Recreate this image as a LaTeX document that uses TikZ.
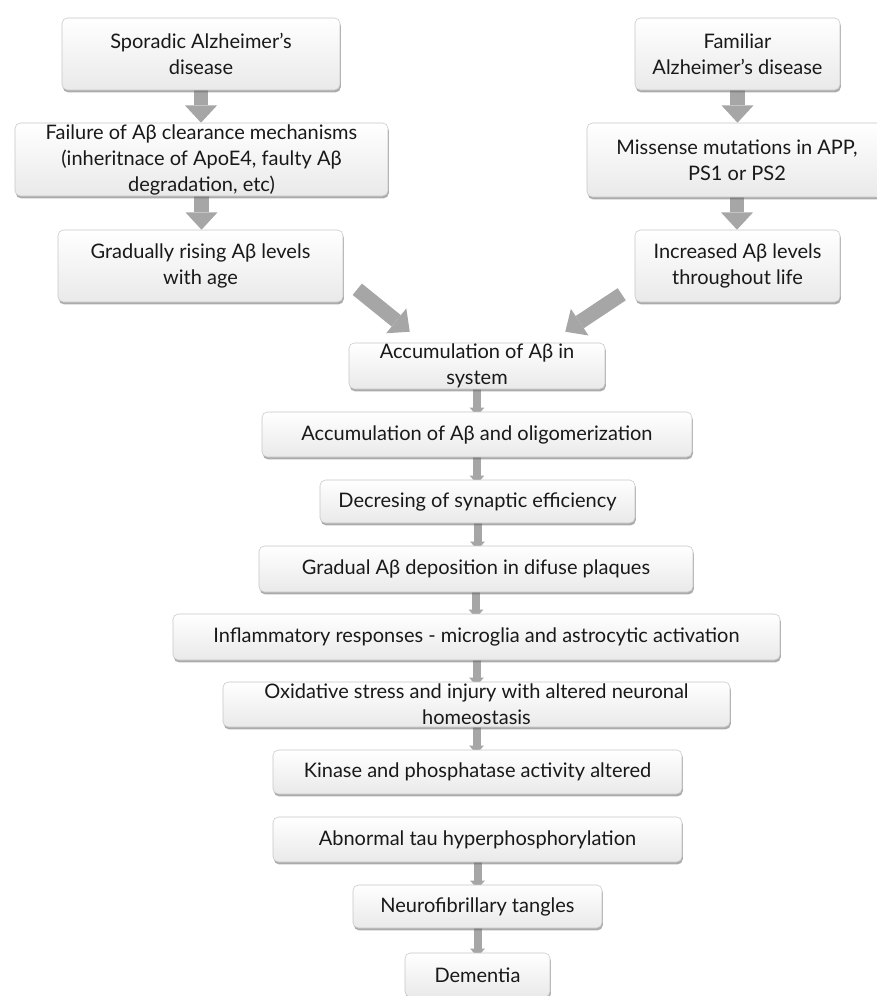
\documentclass[tikz,border=0pt]{standalone}
\usepackage{fontspec}
\setmainfont{Lato}
\usetikzlibrary{arrows.meta,shadows,backgrounds,calc}

\begin{document}
\begin{tikzpicture}[
        x=0.75pt, y=-0.75pt,
        font=\fontsize{15}{19.5}\selectfont,
        box/.style      ={draw=gray!45, line width=0.4pt, rounded corners=4pt,
                          top color=white, bottom color=gray!17, align=center,
                          inner xsep=2pt, inner ysep=0pt, text=black!90,
                          drop shadow={shadow xshift=0.6pt, shadow yshift=-1.8pt,
                                       fill=black!60, opacity=0.55}},
        box size/.style 2 args={minimum width=#1*0.75pt, minimum height=#2*0.75pt},
        bigarr/.style   ={draw=gray!70, line width=11pt,
                          -{Triangle[width=24pt, length=13pt, line width=0pt]}},
        smallarr/.style ={draw=gray!70, line width=6pt, shorten >=-3pt,
                          -{Triangle[width=11pt, length=6pt, line width=0pt]}},
    ]
    \useasboundingbox (0,0) rectangle (877,996);

    %% Sporadic branch (left)
    \node[box, box size={278}{72}] (spor) at (201,54)    {Sporadic Alzheimer's\\disease};
    \node[box, box size={373}{73}] (fail) at (201.5,159.5)
        {Failure of Aβ clearance mechanisms\\(inheritnace of ApoE4, faulty Aβ\\degradation, etc)};
    \node[box, box size={285}{72}] (grad) at (200.5,266) {Gradually rising Aβ levels\\with age};

    %% Familial branch (right)
    \node[box, box size={205}{72}] (fam)  at (737.5,54)  {Familiar\\Alzheimer's disease};
    \node[box, box size={300}{74}] (miss) at (737,160)   {Missense mutations in APP,\\PS1 or PS2};
    \node[box, box size={205}{72}] (inc)  at (737.5,266) {Increased Aβ levels\\throughout life};

    %% Common cascade
    \node[box, box size={256}{46}] (accsys)  at (477,366)   {Accumulation of Aβ in\\system};
    \node[box, box size={430}{45}] (accolig) at (477,434.5) {Accumulation of Aβ and oligomerization};
    \node[box, box size={315}{43}] (decr)    at (477.5,501.5) {Decresing of synaptic efficiency};
    \node[box, box size={434}{46}] (depo)    at (476,569)   {Gradual Aβ deposition in difuse plaques};
    \node[box, box size={607}{46}] (infl)    at (476.5,637) {Inflammatory responses - microglia and astrocytic activation};
    \node[box, box size={507}{45}] (oxid)    at (476.5,704.5)
        {Oxidative stress and injury with altered neuronal\\homeostasis};
    \node[box, box size={409}{44}] (kin)     at (477.5,772) {Kinase and phosphatase activity altered};
    \node[box, box size={409}{45}] (abn)     at (477.5,839.5) {Abnormal tau hyperphosphorylation};
    \node[box, box size={249}{43}] (neuro)   at (477.5,906.5) {Neurofibrillary tangles};
    \node[box, box size={145}{44}] (dem)     at (477.5,975) {Dementia};

    %% Connectors (behind the boxes)
    \begin{scope}[on background layer]
        \draw[bigarr] (spor.south) -- (spor.south |- fail.north);
        \draw[bigarr] (fail.south) -- (fail.south |- grad.north);
        \draw[bigarr] (fam.south)  -- (fam.south |- miss.north);
        \draw[bigarr] (miss.south) -- (miss.south |- inc.north);

        \coordinate (ltail) at ($(grad.south east)+(14,-13)$);
        \coordinate (rtail) at ($(inc.south west)+(-13,-8)$);
        \draw[bigarr] (ltail) -- ($(accsys.north west)+(61,-11)$);
        \draw[bigarr] (rtail) -- ($(accsys.north east)+(-40,-11)$);

        \foreach \a/\b in {accsys/accolig, accolig/decr, decr/depo, depo/infl,
                           infl/oxid, oxid/kin, abn/neuro, neuro/dem}
            \draw[smallarr] (\a.south) -- (\a.south |- \b.north);
    \end{scope}

\end{tikzpicture}
\end{document}
